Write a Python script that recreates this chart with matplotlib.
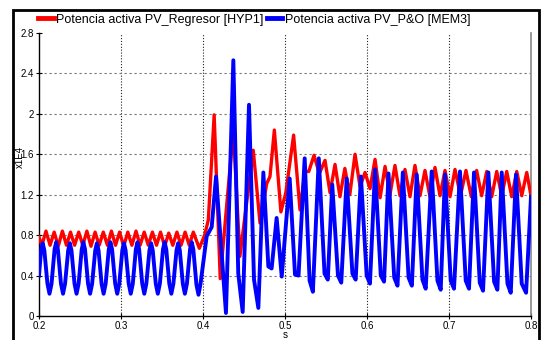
import matplotlib
matplotlib.use("Agg")
import matplotlib.pyplot as plt
from matplotlib.patches import Rectangle
from matplotlib.lines import Line2D

plt.rcParams['font.family'] = ['Liberation Sans', 'DejaVu Sans']

# ---- data (time in s, value in x1E4) ----
red_t = [0.2000, 0.2035, 0.2085, 0.2135, 0.2185, 0.2235, 0.2285, 0.2335, 0.2384, 0.2434,
         0.2484, 0.2534, 0.2584, 0.2634, 0.2684, 0.2734, 0.2784, 0.2834, 0.2883, 0.2933,
         0.2983, 0.3033, 0.3083, 0.3133, 0.3183, 0.3233, 0.3283, 0.3333, 0.3383, 0.3433,
         0.3482, 0.3532, 0.3582, 0.3632, 0.3682, 0.3732, 0.3782, 0.3832, 0.3882, 0.3955,
         0.4020, 0.4065, 0.4136, 0.4210, 0.4370, 0.4450, 0.4613, 0.4695, 0.4777, 0.4817,
         0.4870, 0.4950, 0.5010, 0.5105, 0.5183, 0.5244, 0.5290, 0.5354, 0.5419, 0.5488,
         0.5549, 0.5610, 0.5670, 0.5730, 0.5790, 0.5854, 0.5915, 0.5976, 0.6037, 0.6098,
         0.6160, 0.6220, 0.6280, 0.6341, 0.6402, 0.6463, 0.6524, 0.6585, 0.6646, 0.6707,
         0.6768, 0.6829, 0.6890, 0.6951, 0.7012, 0.7073, 0.7140, 0.7207, 0.7272, 0.7337,
         0.7398, 0.7460, 0.7521, 0.7582, 0.7643, 0.7704, 0.7765, 0.7826, 0.7887, 0.7948,
         0.8000]
red_v = [0.78, 0.70, 0.84, 0.70, 0.83, 0.69, 0.84, 0.70, 0.83, 0.70,
         0.83, 0.70, 0.84, 0.69, 0.83, 0.70, 0.83, 0.70, 0.84, 0.70,
         0.83, 0.69, 0.83, 0.70, 0.84, 0.70, 0.83, 0.70, 0.83, 0.70,
         0.83, 0.69, 0.82, 0.70, 0.83, 0.70, 0.83, 0.70, 0.83, 0.67,
         0.80, 0.95, 1.99, 0.37, 1.84, 0.59, 1.64, 0.92, 1.31, 1.38,
         1.84, 1.03, 1.22, 1.79, 1.05, 1.43, 1.43, 1.59, 1.41, 1.54,
         1.22, 1.50, 1.18, 1.46, 1.20, 1.60, 1.28, 1.42, 1.26, 1.55,
         1.17, 1.48, 1.20, 1.49, 1.19, 1.45, 1.18, 1.49, 1.19, 1.44,
         1.18, 1.47, 1.19, 1.44, 1.18, 1.45, 1.19, 1.44, 1.18, 1.44,
         1.19, 1.43, 1.18, 1.43, 1.19, 1.43, 1.18, 1.43, 1.19, 1.42,
         1.19]

# blue: peaks, shoulders and troughs read along each cycle
blue_t = [0.2000, 0.2025, 0.2045, 0.2065, 0.2103, 0.2128, 0.2153, 0.2190, 0.2210, 0.2230,
          0.2268, 0.2293, 0.2318, 0.2356, 0.2376, 0.2396, 0.2433, 0.2458, 0.2483, 0.2521,
          0.2541, 0.2561, 0.2598, 0.2623, 0.2648, 0.2686, 0.2706, 0.2726, 0.2763, 0.2788,
          0.2813, 0.2851, 0.2871, 0.2891, 0.2929, 0.2954, 0.2979, 0.3016, 0.3036, 0.3056,
          0.3094, 0.3119, 0.3144, 0.3181, 0.3201, 0.3221, 0.3259, 0.3284, 0.3309, 0.3347,
          0.3367, 0.3387, 0.3424, 0.3449, 0.3474, 0.3512, 0.3532, 0.3552, 0.3589, 0.3614,
          0.3639, 0.3677, 0.3697, 0.3717, 0.3754, 0.3779, 0.3804, 0.3842, 0.3862, 0.3882,
          0.3920, 0.3945, 0.3970,
          0.4045, 0.4106, 0.4159, 0.4280, 0.4370,
          0.4430, 0.4484, 0.4561, 0.4622, 0.4675, 0.4736, 0.4797, 0.4837, 0.4898, 0.4960,
          0.5057, 0.5122, 0.5165, 0.5240, 0.5300, 0.5340, 0.5412, 0.5482, 0.5522, 0.5576,
          0.5646, 0.5686, 0.5752, 0.5822, 0.5862, 0.5926, 0.5996, 0.6036, 0.6098, 0.6168,
          0.6208, 0.6262, 0.6332, 0.6372, 0.6437, 0.6507, 0.6547, 0.6606, 0.6676, 0.6716,
          0.6789, 0.6859, 0.6899, 0.6951, 0.7021, 0.7061, 0.7134, 0.7204, 0.7244, 0.7305,
          0.7375, 0.7415, 0.7480, 0.7550, 0.7590, 0.7643, 0.7713, 0.7753, 0.7817, 0.7887,
          0.7940, 0.8000]
blue_v = [0.40, 0.65, 0.72, 0.65, 0.32, 0.22, 0.32, 0.66, 0.73, 0.66,
          0.32, 0.22, 0.32, 0.65, 0.72, 0.65, 0.32, 0.22, 0.32, 0.66,
          0.73, 0.66, 0.32, 0.22, 0.32, 0.65, 0.72, 0.65, 0.32, 0.22,
          0.32, 0.66, 0.73, 0.66, 0.32, 0.22, 0.32, 0.65, 0.72, 0.65,
          0.32, 0.22, 0.32, 0.66, 0.73, 0.66, 0.32, 0.22, 0.32, 0.65,
          0.72, 0.65, 0.32, 0.22, 0.32, 0.66, 0.73, 0.66, 0.32, 0.22,
          0.32, 0.65, 0.72, 0.65, 0.32, 0.22, 0.32, 0.66, 0.73, 0.66,
          0.31, 0.21, 0.32,
          0.79, 0.88, 1.38, 0.03, 2.53,
          0.42, 0.04, 2.09, 0.36, 0.08, 1.42, 0.49, 0.47, 0.97, 0.39,
          1.36, 0.41, 0.40, 1.56, 0.35, 0.24, 1.56, 0.42, 0.36, 1.30,
          0.40, 0.33, 1.36, 0.42, 0.36, 1.38, 0.40, 0.32, 1.45, 0.40,
          0.34, 1.41, 0.38, 0.30, 1.42, 0.38, 0.30, 1.40, 0.36, 0.27,
          1.43, 0.35, 0.26, 1.40, 0.35, 0.27, 1.43, 0.35, 0.27, 1.42,
          0.33, 0.25, 1.42, 0.34, 0.26, 1.42, 0.32, 0.23, 1.40, 0.32,
          0.23, 1.18]

x_ticks = [0.2, 0.3, 0.4, 0.5, 0.6, 0.7, 0.8]
x_labels = ["0.2", "0.3", "0.4", "0.5", "0.6", "0.7", "0.8"]
y_ticks = [0, 0.4, 0.8, 1.2, 1.6, 2.0, 2.4, 2.8]
y_labels = ["0", "0.4", "0.8", "1.2", "1.6", "2", "2.4", "2.8"]
series_names = ["Potencia activa PV_Regresor [HYP1]", "Potencia activa PV_P&O [MEM3]"]

W, H = 541, 340
fig = plt.figure(figsize=(W / 100, H / 100), dpi=100)
fig.patch.set_facecolor('white')

# outer frame
fig.patches.append(Rectangle((13 / W, -0.05), (539 - 13) / W, 1.05 - 10 / H,
                             transform=fig.transFigure, fill=False,
                             edgecolor='black', linewidth=2.0, zorder=0))

ax = fig.add_axes([39 / W, 1 - 316 / H, (531 - 39) / W, (316 - 33) / H])
ax.set_xlim(0.2, 0.8)
ax.set_ylim(0, 2.8)

for xv in x_ticks[1:-1]:
    ax.axvline(xv, color='#222222', linestyle=(0, (1, 1.6)), linewidth=0.8, zorder=1)
for yv in y_ticks[1:-1]:
    ax.axhline(yv, color='#777777', linestyle=(0, (2, 2.5)), linewidth=0.8, zorder=1)

ax.plot(red_t, red_v, color='#ff0000', linewidth=2.4, solid_joinstyle='round', zorder=3)
ax.plot(blue_t, blue_v, color='#0000ff', linewidth=2.8, solid_joinstyle='round', zorder=4)

ax.set_xticks(x_ticks)
ax.set_xticklabels(x_labels)
ax.set_yticks(y_ticks)
ax.set_yticklabels(y_labels)
ax.tick_params(axis='both', direction='inout', length=4, width=0.8, labelsize=7, pad=1.5)
ax.spines['top'].set_visible(False)
ax.spines['right'].set_color('#888888')
ax.spines['right'].set_linewidth(1.2)
ax.spines['left'].set_linewidth(1.0)
ax.spines['bottom'].set_linewidth(1.0)

fig.text(285 / W, 1 - 335 / H, "s", fontsize=7, ha='center', va='center')
fig.text(20 / W, 1 - 157 / H, "x1E4", fontsize=7, rotation=90, ha='center', va='center')

handles = [Line2D([], [], color='#ff0000', linewidth=3.5),
           Line2D([], [], color='#0000ff', linewidth=3.5)]
fig.legend(handles, series_names, loc='upper left', bbox_to_anchor=(38 / W, 1 - 13.5 / H),
           ncol=2, frameon=False, fontsize=9.0, handlelength=1.25, handletextpad=0.2,
           columnspacing=0.25, borderpad=0.0, borderaxespad=0.0)

fig.savefig("out.png", dpi=100)
